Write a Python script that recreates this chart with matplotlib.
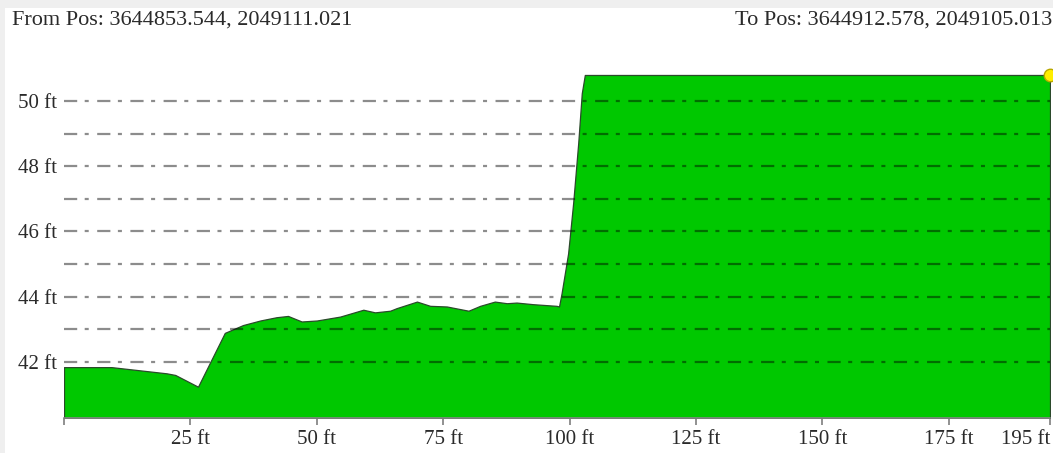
import matplotlib
matplotlib.use("Agg")
import matplotlib.pyplot as plt
from matplotlib.patches import Rectangle

# ---- data ----
dist_ft = [0, 9.4, 20.3, 22, 26.5, 31.8, 35.4, 38.8, 42, 44.3, 47, 50, 54.6, 59.2,
           61.5, 64.5, 65.8, 67.8, 69.8, 72.4, 75.7, 80, 82.3, 85.2, 87.6, 89.5,
           92.8, 97.4, 97.9, 98.4, 99.7, 100.7, 101.7, 102.4, 103, 195]
elev_ft = [41.84, 41.84, 41.65, 41.6, 41.24, 42.89, 43.13, 43.27, 43.37, 43.41,
           43.24, 43.27, 43.39, 43.6, 43.52, 43.57, 43.65, 43.75, 43.85, 43.72,
           43.7, 43.57, 43.72, 43.85, 43.8, 43.82, 43.77, 43.72, 43.7, 44.1,
           45.33, 46.88, 48.72, 50.24, 50.8, 50.8]
x_ticks = [0, 25, 50, 75, 100, 125, 150, 175, 195]
x_labels = ["", "25 ft", "50 ft", "75 ft", "100 ft", "125 ft", "150 ft", "175 ft", "195 ft"]
y_grid = [42, 43, 44, 45, 46, 47, 48, 49, 50]
y_ticks = [42, 44, 46, 48, 50]
y_labels = ["42 ft", "44 ft", "46 ft", "48 ft", "50 ft"]
from_text = "From Pos: 3644853.544, 2049111.021"
to_text = "To Pos: 3644912.578, 2049105.013"

W, H = 1053, 453
plt.rcParams['font.family'] = ['Liberation Serif', 'DejaVu Serif']
plt.rcParams['lines.scale_dashes'] = False

fig = plt.figure(figsize=(W / 100, H / 100), dpi=100)
fig.patch.set_facecolor('#efefef')
fig.patches.append(Rectangle((5 / W, 0), 1, (H - 8) / H, transform=fig.transFigure,
                             facecolor='white', edgecolor='none', zorder=-5))

ax = fig.add_axes([64 / W, (H - 418) / H, 986 / W, (418 - 74) / H])
ax.set_zorder(2)
ax.set_facecolor('none')
ax.set_xlim(0, 195)
ax.set_ylim(40.28, 50.83)

ax.fill_between(dist_ft, elev_ft, 40.28, facecolor='#00c800', edgecolor='#2b4a2b',
                linewidth=0.9, zorder=2)

for g in y_grid:
    ax.axhline(g, color='black', alpha=0.45, linewidth=1.6,
               linestyle=(0, (9.5, 5.4, 2.9, 6.1)), zorder=3)

ax.plot([dist_ft[-1]], [elev_ft[-1]], 'o', color='#ffee00', markeredgecolor='#b8a800',
        markersize=9, clip_on=False, zorder=5)

for s in ['top', 'right', 'left']:
    ax.spines[s].set_visible(False)
ax.spines['bottom'].set_color('#888888')
ax.spines['bottom'].set_linewidth(1.2)

ax.set_xticks(x_ticks)
ax.set_xticklabels(x_labels)
ax.tick_params(axis='x', length=5, width=1.3, color='#888888', labelsize=15,
               labelcolor='#2a2a2a', pad=4)
lbls = ax.get_xticklabels()
lbls[-1].set_horizontalalignment('right')

ax.set_yticks(y_ticks)
ax.set_yticklabels(y_labels)
ax.tick_params(axis='y', length=0, labelsize=15, labelcolor='#2a2a2a', pad=5)

fig.text(12 / W, 1 - 20 / H, from_text, ha='left', va='center', fontsize=16, color='#2a2a2a')
fig.text(1052 / W, 1 - 20 / H, to_text, ha='right', va='center', fontsize=16, color='#2a2a2a')

fig.savefig('out.png', dpi=100)
